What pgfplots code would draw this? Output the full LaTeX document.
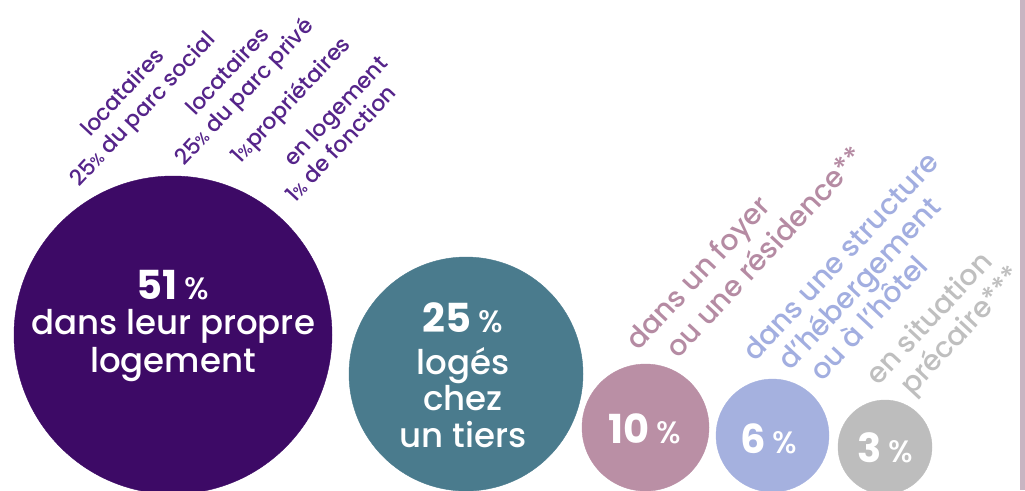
\documentclass[border=0pt]{standalone}
\usepackage{pgfplots}
\pgfplotsset{compat=1.18}
\usepackage{fontspec}
\setmainfont{Poppins}[UprightFont=* Medium, BoldFont=* Bold]

\definecolor{cviolet}{HTML}{3D0A66}
\definecolor{tviolet}{HTML}{55248A}
\definecolor{cteal}{HTML}{4A7B8D}
\definecolor{cpink}{HTML}{BA8FA5}
\definecolor{tpink}{HTML}{B58BA3}
\definecolor{cblue}{HTML}{A5B1DF}
\definecolor{tblue}{HTML}{A2AEE0}
\definecolor{cgrey}{HTML}{BDBDBD}
\definecolor{tgrey}{HTML}{BFBFBF}
\definecolor{cline}{HTML}{C8B5C2}

\newcommand\num{\fontsize{40}{40}\selectfont\bfseries}
\newcommand\pc{{\fontsize{31}{31}\selectfont\mdseries\%}}
\newcommand\pcs{{\fontsize{16}{16}\selectfont\%}}

\tikzset{lbl/.style={rotate=47, anchor=base west, inner sep=0pt}}

\begin{document}
\begin{tikzpicture}
\begin{axis}[
  name=ax,
  width=1025pt, height=490pt, scale only axis,
  xmin=0, xmax=1025, ymin=0, ymax=490, y dir=reverse,
  hide axis, clip=false,
]
% bubbles: centre (x, y from top, in px), radius in px
\addplot[only marks, mark=*, mark size=159, color=cviolet] coordinates {(173,335)};  % 51
\addplot[only marks, mark=*, mark size=117, color=cteal]   coordinates {(466,374)};  % 25
\addplot[only marks, mark=*, mark size=63.5, color=cpink]  coordinates {(645.5,427.5)}; % 10
\addplot[only marks, mark=*, mark size=56.5, color=cblue]  coordinates {(772.5,435.5)}; % 6
\addplot[only marks, mark=*, mark size=47, color=cgrey]    coordinates {(885,447)};  % 3

% anchors for the texts in the bubbles
\coordinate (n1) at (axis cs:173,300);
\coordinate (a1) at (axis cs:173,335);
\coordinate (a2) at (axis cs:173,373);
\coordinate (n2) at (axis cs:463,333);
\coordinate (b1) at (axis cs:463,375);
\coordinate (b2) at (axis cs:463,410);
\coordinate (b3) at (axis cs:463,447);
\coordinate (n3) at (axis cs:645,443);
\coordinate (n4) at (axis cs:768.5,453);
\coordinate (n5) at (axis cs:885,462);

% labels above the first bubble
\begin{scope}[every node/.style={lbl, text=tviolet, font=\fontsize{22}{26}\selectfont}]
\node at (axis cs:90,138) {locataires};
\node (l1) at (axis cs:109,156) {du parc social};
\node[anchor=base east] at (l1.base west) {25\pcs\,};
\node at (axis cs:195,117) {locataires};
\node (l2) at (axis cs:214,135) {du parc privé};
\node[anchor=base east] at (l2.base west) {25\pcs\,};
\node at (axis cs:240,165) {1\pcs propriétaires};
\node at (axis cs:293,168) {en logement};
\node (l4) at (axis cs:312,186) {de fonction};
\node[anchor=base east] at (l4.base west) {1\pcs\,};
\end{scope}

% labels above the small bubbles
\begin{scope}[every node/.style={lbl, font=\fontsize{28.5}{33}\selectfont}]
\node[text=tpink] at (axis cs:638,352) {dans un foyer};
\node[text=tpink] at (axis cs:678,360) {ou une résidence**};
\node[text=tblue] at (axis cs:755,363) {dans une structure};
\node[text=tblue] at (axis cs:790,372) {d’hébergement};
\node[text=tblue] at (axis cs:822,383) {ou à l’hôtel};
\node[text=tgrey] at (axis cs:878,387) {en situation};
\node[text=tgrey] at (axis cs:912,397) {précaire***};
\end{scope}

\fill[cline] (axis cs:1020,0) rectangle (axis cs:1025,490);
\end{axis}

\begin{scope}[every node/.style={anchor=base, inner sep=0pt, text=white}]
\node at (n1) {\num 51\,\pc};
\node[font=\fontsize{34}{38}\selectfont] at (a1) {dans leur propre};
\node[font=\fontsize{34}{38}\selectfont] at (a2) {logement};
\node at (n2) {\num 25\,\pc};
\node[font=\fontsize{34}{38}\selectfont] at (b1) {logés};
\node[font=\fontsize{34}{38}\selectfont] at (b2) {chez};
\node[font=\fontsize{34}{38}\selectfont] at (b3) {un tiers};
\node at (n3) {\num 10\,\pc};
\node at (n4) {\num 6\,\pc};
\node at (n5) {\num 3\,\pc};
\end{scope}

\pgfresetboundingbox
\path[use as bounding box] (ax.south west) rectangle (ax.north east);
\end{tikzpicture}
\end{document}
